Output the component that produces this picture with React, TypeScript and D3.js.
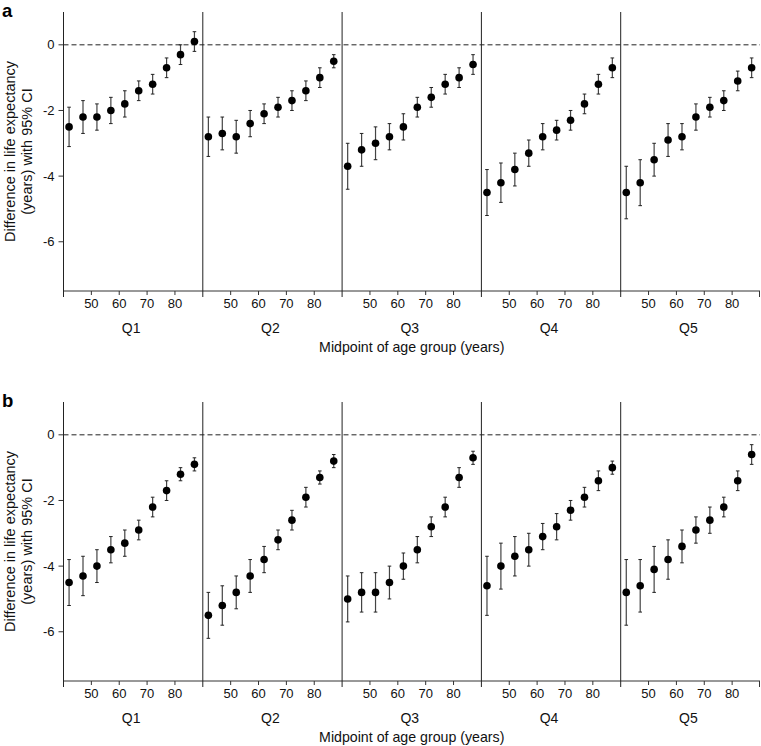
import React from 'react';
import * as d3 from 'd3';

// midpoints of the age groups (years)
const ages = [42, 47, 52, 57, 62, 67, 72, 77, 82, 87];
const quintiles = ['Q1', 'Q2', 'Q3', 'Q4', 'Q5'];
const xTicks = [50, 60, 70, 80];
const yTicks = [0, -2, -4, -6];

// panel a: estimate, lower and upper 95% CI per quintile
const estA = [
  [-2.5, -2.2, -2.2, -2.0, -1.8, -1.4, -1.2, -0.7, -0.3, 0.1],
  [-2.8, -2.7, -2.8, -2.4, -2.1, -1.9, -1.7, -1.4, -1.0, -0.5],
  [-3.7, -3.2, -3.0, -2.8, -2.5, -1.9, -1.6, -1.2, -1.0, -0.6],
  [-4.5, -4.2, -3.8, -3.3, -2.8, -2.6, -2.3, -1.8, -1.2, -0.7],
  [-4.5, -4.2, -3.5, -2.9, -2.8, -2.2, -1.9, -1.7, -1.1, -0.7],
];
const loA = [
  [-3.1, -2.7, -2.6, -2.4, -2.2, -1.7, -1.5, -1.0, -0.6, -0.2],
  [-3.4, -3.2, -3.3, -2.8, -2.4, -2.2, -2.0, -1.7, -1.3, -0.7],
  [-4.4, -3.7, -3.5, -3.2, -2.9, -2.2, -1.9, -1.5, -1.3, -0.9],
  [-5.2, -4.8, -4.3, -3.7, -3.2, -2.9, -2.6, -2.1, -1.5, -1.0],
  [-5.3, -4.9, -4.0, -3.4, -3.2, -2.6, -2.2, -2.0, -1.4, -1.0],
];
const hiA = [
  [-1.9, -1.7, -1.8, -1.6, -1.4, -1.1, -0.9, -0.4, 0.0, 0.4],
  [-2.2, -2.2, -2.3, -2.0, -1.8, -1.6, -1.4, -1.1, -0.7, -0.3],
  [-3.0, -2.7, -2.5, -2.4, -2.1, -1.6, -1.3, -0.9, -0.7, -0.3],
  [-3.8, -3.6, -3.3, -2.9, -2.4, -2.3, -2.0, -1.5, -0.9, -0.4],
  [-3.7, -3.5, -3.0, -2.4, -2.4, -1.8, -1.6, -1.4, -0.8, -0.4],
];

// panel b
const estB = [
  [-4.5, -4.3, -4.0, -3.5, -3.3, -2.9, -2.2, -1.7, -1.2, -0.9],
  [-5.5, -5.2, -4.8, -4.3, -3.8, -3.2, -2.6, -1.9, -1.3, -0.8],
  [-5.0, -4.8, -4.8, -4.5, -4.0, -3.5, -2.8, -2.2, -1.3, -0.7],
  [-4.6, -4.0, -3.7, -3.5, -3.1, -2.8, -2.3, -1.9, -1.4, -1.0],
  [-4.8, -4.6, -4.1, -3.8, -3.4, -2.9, -2.6, -2.2, -1.4, -0.6],
];
const loB = [
  [-5.2, -4.9, -4.5, -3.9, -3.7, -3.2, -2.5, -2.0, -1.4, -1.1],
  [-6.2, -5.8, -5.3, -4.8, -4.2, -3.5, -2.9, -2.2, -1.5, -1.0],
  [-5.7, -5.4, -5.4, -5.0, -4.4, -3.9, -3.1, -2.5, -1.6, -0.9],
  [-5.5, -4.7, -4.3, -4.0, -3.5, -3.2, -2.6, -2.2, -1.7, -1.2],
  [-5.8, -5.4, -4.8, -4.4, -3.9, -3.3, -3.0, -2.5, -1.7, -0.9],
];
const hiB = [
  [-3.8, -3.7, -3.5, -3.1, -2.9, -2.6, -1.9, -1.4, -1.0, -0.7],
  [-4.8, -4.6, -4.3, -3.8, -3.4, -2.9, -2.3, -1.6, -1.1, -0.6],
  [-4.3, -4.2, -4.2, -4.0, -3.6, -3.1, -2.5, -1.9, -1.0, -0.5],
  [-3.7, -3.3, -3.1, -3.0, -2.7, -2.4, -2.0, -1.6, -1.1, -0.8],
  [-3.8, -3.8, -3.4, -3.2, -2.9, -2.5, -2.2, -1.9, -1.1, -0.3],
];

const W = 761;
const H = 746;
const FONT = '"Liberation Sans", Arial, Helvetica, sans-serif';
const plotLeft = 63.5;
const plotRight = 760;
const plotH = 279;

type PanelProps = {
  label: string;
  top: number;
  est: number[][];
  lo: number[][];
  hi: number[][];
};

const Panel: React.FC<PanelProps> = ({ label, top, est, lo, hi }) => {
  const bottom = top + plotH;
  const y = d3.scaleLinear().domain([-7.5, 1]).range([bottom, top]);
  const facet = d3.scaleBand().domain(quintiles).range([plotLeft, plotRight]).paddingInner(0).paddingOuter(0);
  const fw = facet.bandwidth();
  const midY = (top + bottom) / 2;

  return (
    <g>
      <text x={2} y={top + 5} fontFamily={FONT} fontWeight="bold" fontSize={18.5} fill="#000">
        {label}
      </text>

      {/* y axis ticks */}
      {yTicks.map((t) => (
        <g key={t}>
          <line x1={plotLeft - 5} x2={plotLeft} y1={y(t)} y2={y(t)} stroke="#333" />
          <text
            x={plotLeft - 9}
            y={y(t)}
            dy="0.35em"
            textAnchor="end"
            fontFamily={FONT}
            fontSize={13}
            fill="#111"
          >
            {t}
          </text>
        </g>
      ))}

      {/* y title */}
      <g transform={`translate(14,${midY}) rotate(-90)`}>
        <text textAnchor="middle" fontFamily={FONT} fontSize={14.5} fill="#111">
          <tspan x={0} dy="0.1em">Difference in life expectancy</tspan>
          <tspan x={0} dy="1.12em">(years) with 95% CI</tspan>
        </text>
      </g>

      {/* bottom axis line */}
      <line x1={plotLeft} x2={plotRight} y1={bottom} y2={bottom} stroke="#333" />
      <line x1={plotRight - 0.5} x2={plotRight - 0.5} y1={bottom} y2={bottom + 6} stroke="#333" />

      {/* reference line at 0 */}
      <line
        x1={plotLeft}
        x2={plotRight}
        y1={y(0)}
        y2={y(0)}
        stroke="#222"
        strokeDasharray="5,3"
      />

      {quintiles.map((q, qi) => {
        const x0 = facet(q)!;
        const x = d3.scaleLinear().domain([40, 90]).range([x0, x0 + fw]);
        return (
          <g key={q}>
            <line x1={x0} x2={x0} y1={top} y2={bottom + 6} stroke="#222" />
            {xTicks.map((t) => (
              <g key={t}>
                <line x1={x(t)} x2={x(t)} y1={bottom} y2={bottom + 4} stroke="#333" />
                <text
                  x={x(t)}
                  y={bottom + 17}
                  textAnchor="middle"
                  fontFamily={FONT}
                  fontSize={13}
                  fill="#111"
                >
                  {t}
                </text>
              </g>
            ))}
            <text
              x={x0 + fw / 2 - 2}
              y={bottom + 42}
              textAnchor="middle"
              fontFamily={FONT}
              fontSize={14}
              fill="#111"
            >
              {q}
            </text>
            {ages.map((a, i) => {
              const cx = x(a);
              return (
                <g key={a}>
                  <line x1={cx} x2={cx} y1={y(lo[qi][i])} y2={y(hi[qi][i])} stroke="#444" strokeWidth={1.2} />
                  <line x1={cx - 1.8} x2={cx + 1.8} y1={y(lo[qi][i])} y2={y(lo[qi][i])} stroke="#222" />
                  <line x1={cx - 1.8} x2={cx + 1.8} y1={y(hi[qi][i])} y2={y(hi[qi][i])} stroke="#222" />
                  <circle cx={cx} cy={y(est[qi][i])} r={3.8} fill="#000" />
                </g>
              );
            })}
          </g>
        );
      })}

      <text
        x={(plotLeft + plotRight) / 2}
        y={bottom + 61}
        textAnchor="middle"
        fontFamily={FONT}
        fontSize={14.2}
        fill="#111"
      >
        Midpoint of age group (years)
      </text>
    </g>
  );
};

export default function App() {
  return (
    <svg
      width={W}
      height={H}
      viewBox={`0 0 ${W} ${H}`}
      style={{ position: 'absolute', left: 0, top: 0, display: 'block', background: '#fff' }}
    >
      <rect width={W} height={H} fill="#fff" />
      <Panel label="a" top={12} est={estA} lo={loA} hi={hiA} />
      <Panel label="b" top={402} est={estB} lo={loB} hi={hiB} />
    </svg>
  );
}
